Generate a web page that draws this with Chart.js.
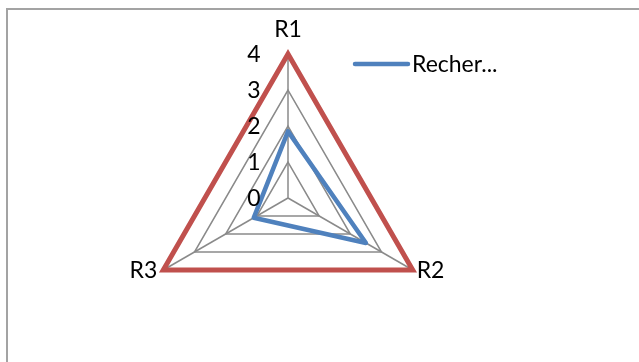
<!DOCTYPE html>
<html>
<head>
<meta charset="utf-8">
<script src="https://cdn.jsdelivr.net/npm/chart.js@4"></script>
<style>
  html, body { margin: 0; padding: 0; background: #fff; }
  #wrap { position: relative; width: 639px; height: 362px; overflow: hidden; }
  #frame { position: absolute; left: 6px; top: 8px; width: 700px; height: 400px;
           border-left: 2px solid #a3a3a3; border-top: 2px solid #a3a3a3; }
  canvas { position: absolute; left: 0; top: 0; }
</style>
</head>
<body>
<div id="wrap">
  <div id="frame"></div>
  <canvas id="myChart" width="639" height="362"></canvas>
</div>
<script>
const ctx = document.getElementById("myChart");

const categories = ['R1', 'R2', 'R3']
const rechercheLabel = 'Recher...'
const rechercheValues = [1.85, 2.5, 1.1]
const maxValues = [4, 4, 4]
const tickValues = [0, 1, 2, 3, 4]

const labelFont = '23px Lato'

// ticks, point labels and legend drawn the Excel way
const excelText = {
  id: 'excelText',
  afterDraw(chart) {
    const c = chart.ctx
    const scale = chart.scales.r
    c.save()
    c.font = labelFont
    c.fillStyle = '#000'

    // tick labels, left of the vertical axis
    c.textAlign = 'center'
    c.textBaseline = 'middle'
    tickValues.forEach(v => {
      const p = scale.getPointPositionForValue(0, v)
      c.fillText(String(v), p.x - 34, p.y + 1)
    })

    // category labels next to each corner
    categories.forEach((lab, i) => {
      const p = scale.getPointPositionForValue(i, tickValues[tickValues.length - 1])
      if (Math.abs(p.x - scale.xCenter) < 1) {
        c.textAlign = 'center'
        c.textBaseline = 'bottom'
        c.fillText(lab, p.x, p.y - 13)
      } else if (p.x > scale.xCenter) {
        c.textAlign = 'left'
        c.textBaseline = 'middle'
        c.fillText(lab, p.x + 4, p.y + 1)
      } else {
        c.textAlign = 'right'
        c.textBaseline = 'middle'
        c.fillText(lab, p.x - 6, p.y + 1)
      }
    })

    // legend
    const ds = chart.data.datasets[0]
    c.strokeStyle = ds.borderColor
    c.lineWidth = 4.5
    c.lineCap = 'round'
    c.beginPath()
    c.moveTo(355, 64)
    c.lineTo(408, 64)
    c.stroke()
    c.textAlign = 'left'
    c.textBaseline = 'middle'
    c.fillText(ds.label, 412, 65)
    c.restore()
  }
}

const myChart = new Chart(ctx, {
  type: 'radar',
  data: {
    labels: categories,
    datasets: [{
      label: rechercheLabel,
      data: rechercheValues,
      borderColor: '#4f81bd',
      backgroundColor: 'rgba(0,0,0,0)',
      borderWidth: 4.5,
      borderJoinStyle: 'round',
      fill: false,
      pointRadius: 0,
      clip: false
    }, {
      label: 'Max',
      data: maxValues,
      borderColor: '#c0504d',
      backgroundColor: 'rgba(0,0,0,0)',
      borderWidth: 5,
      borderJoinStyle: 'miter',
      fill: false,
      pointRadius: 0,
      clip: false
    }]
  },
  options: {
    responsive: false,
    animation: false,
    layout: {
      padding: { left: 144, right: 207, top: 54, bottom: 20 }
    },
    elements: { line: { tension: 0 } },
    scales: {
      r: {
        min: 0,
        max: 4,
        ticks: { display: false, stepSize: 1 },
        pointLabels: { display: false },
        grid: { color: '#8a8a8a', lineWidth: 1.5 },
        angleLines: { color: '#8a8a8a', lineWidth: 1.5 }
      }
    },
    plugins: {
      legend: { display: false },
      tooltip: { enabled: false }
    }
  },
  plugins: [excelText]
});
</script>
</body>
</html>
